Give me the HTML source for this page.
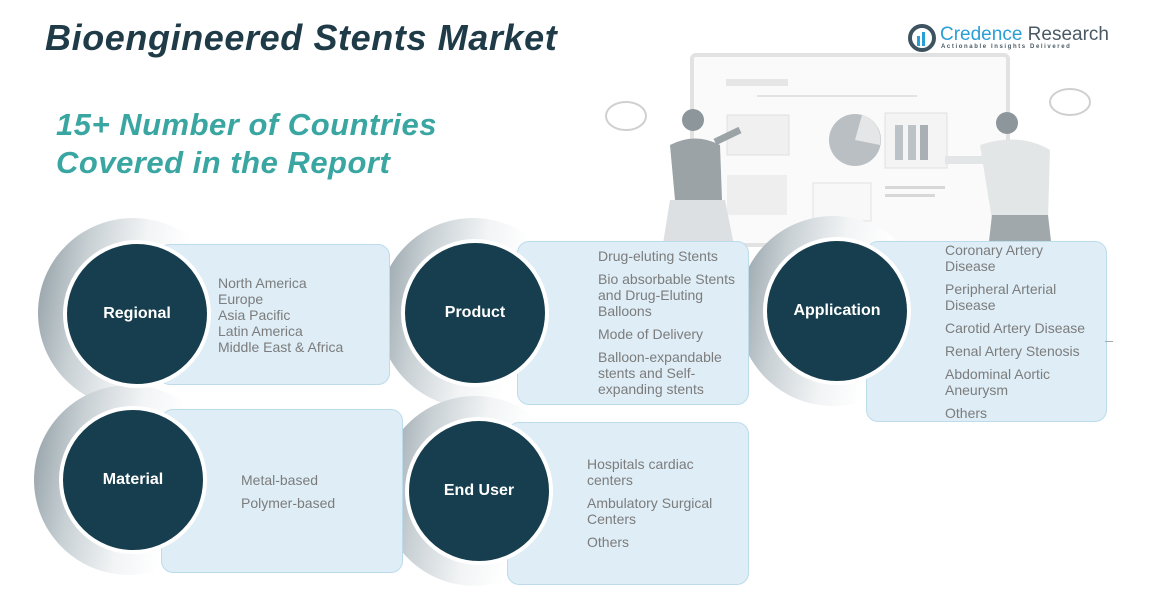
<!DOCTYPE html>
<html><head><meta charset="utf-8"><style>
body{margin:0;width:1172px;height:607px;background:#fff;position:relative;overflow:hidden;font-family:"Liberation Sans",sans-serif}
.a{position:absolute}
.ring{position:absolute;border-radius:50%;background:linear-gradient(100deg,#8d9ba2 0%,#c9d1d5 25%,#f2f4f5 50%,#fff 70%)}
.box{position:absolute;background:#deedf6;border:1.5px solid #bcdcec;border-radius:12px}
.dot{position:absolute;border-radius:50%;background:#173e4e;border:4px solid #fff;color:#fff;font-weight:bold;font-size:16px;display:flex;align-items:center;justify-content:center}
.t{position:absolute;color:#7c7c7c;font-size:14px;line-height:16px}
.t div{margin-bottom:7px}
</style></head><body>
<div class="a" style="left:45px;top:17px;font-size:36px;font-weight:bold;font-style:italic;color:#1f3b48;letter-spacing:0.6px">Bioengineered Stents Market</div>
<div class="a" style="left:56px;top:106px;font-size:31px;font-weight:bold;font-style:italic;color:#3aa6a2;line-height:38px;letter-spacing:0.5px">15+ Number of Countries<br>Covered in the Report</div>
<!-- logo -->
<svg class="a" style="left:908px;top:24px" width="30" height="28"><circle cx="14" cy="14" r="12" fill="none" stroke="#3d5360" stroke-width="4"/><rect x="9" y="12" width="3" height="10" fill="#2a9fd6"/><rect x="14" y="8" width="3" height="14" fill="#2a9fd6"/></svg>
<div class="a" style="left:940px;top:24px;font-size:19px;color:#2a9fd6">Credence <span style="color:#4a5a64">Research</span></div>
<div class="a" style="left:941px;top:44px;font-size:6px;letter-spacing:1.6px;color:#4a5a64;font-weight:bold">Actionable Insights Delivered</div>
<!-- illustration -->
<svg class="a" style="left:600px;top:50px" width="520" height="200">
<rect x="92" y="5" width="316" height="190" rx="4" fill="#fafafa" stroke="#e2e2e2" stroke-width="4"/>
<rect x="126" y="29" width="62" height="7" fill="#e6e6e6"/><rect x="157" y="45" width="160" height="2" fill="#e2e2e2"/>
<rect x="127" y="65" width="62" height="40" fill="#f0f0f0" stroke="#e0e0e0"/>
<circle cx="255" cy="90" r="26" fill="#b9bfc2"/><path d="M255 90 L262 65 A26 26 0 0 1 280 95Z" fill="#e4e6e7"/>
<rect x="285" y="63" width="62" height="55" fill="#f4f4f4" stroke="#e0e0e0"/><rect x="295" y="75" width="8" height="35" fill="#bcc2c5"/><rect x="308" y="75" width="8" height="35" fill="#bcc2c5"/><rect x="320" y="75" width="8" height="35" fill="#a8b0b4"/>
<rect x="127" y="125" width="60" height="40" fill="#eeeeee"/><rect x="213" y="133" width="58" height="38" fill="#f8f8f8" stroke="#e2e2e2"/>
<rect x="285" y="136" width="60" height="3" fill="#d8d8d8"/><rect x="285" y="144" width="50" height="3" fill="#d8d8d8"/>
<ellipse cx="26" cy="66" rx="20" ry="14" fill="none" stroke="#d0d0d0" stroke-width="2"/><ellipse cx="470" cy="52" rx="20" ry="13" fill="none" stroke="#d0d0d0" stroke-width="2"/>
<circle cx="93" cy="70" r="11" fill="#8c969b"/><path d="M70 95 Q95 82 120 95 L122 150 L75 150Z" fill="#9ba3a7"/><path d="M70 150 L125 150 L135 200 L62 200Z" fill="#dde0e2"/><path d="M115 92 L140 80" stroke="#9ba3a7" stroke-width="7"/>
<circle cx="407" cy="73" r="11" fill="#8c969b"/><path d="M380 95 Q420 82 450 100 L448 170 L392 170Z" fill="#e3e6e7"/><path d="M392 165 L448 165 L452 200 L388 200Z" fill="#a0a8ac"/><path d="M385 110 L345 110" stroke="#e3e6e7" stroke-width="8"/>
</svg>
<!-- rings -->
<div class="ring" style="left:38px;top:218px;width:190px;height:190px"></div>
<div class="ring" style="left:378px;top:218px;width:190px;height:190px"></div>
<div class="ring" style="left:738px;top:216px;width:190px;height:190px"></div>
<div class="ring" style="left:34px;top:385px;width:190px;height:190px"></div>
<div class="ring" style="left:380px;top:396px;width:190px;height:190px"></div>
<!-- boxes -->
<div class="box" style="left:158px;top:244px;width:230px;height:139px"></div>
<div class="box" style="left:517px;top:241px;width:230px;height:162px"></div>
<div class="box" style="left:866px;top:241px;width:239px;height:179px"></div>
<div class="box" style="left:161px;top:409px;width:240px;height:162px"></div>
<div class="box" style="left:507px;top:422px;width:240px;height:161px"></div>
<div class="a" style="left:1105px;top:341px;width:8px;height:1px;background:#aaa"></div>
<!-- circles -->
<div class="dot" style="left:63px;top:240px;width:140px;height:140px">Regional</div>
<div class="dot" style="left:401px;top:239px;width:140px;height:140px">Product</div>
<div class="dot" style="left:763px;top:237px;width:140px;height:140px">Application</div>
<div class="dot" style="left:59px;top:406px;width:140px;height:140px">Material</div>
<div class="dot" style="left:405px;top:417px;width:140px;height:140px">End User</div>
<!-- texts -->
<div class="t" style="left:218px;top:275px">North America<br>Europe<br>Asia Pacific<br>Latin America<br>Middle East &amp; Africa</div>
<div class="t" style="left:598px;top:248px"><div>Drug-eluting Stents</div><div>Bio absorbable Stents<br>and Drug-Eluting<br>Balloons</div><div>Mode of Delivery</div><div>Balloon-expandable<br>stents and Self-<br>expanding stents</div></div>
<div class="t" style="left:945px;top:242px"><div>Coronary Artery<br>Disease</div><div>Peripheral Arterial<br>Disease</div><div>Carotid Artery Disease</div><div>Renal Artery Stenosis</div><div>Abdominal Aortic<br>Aneurysm</div><div>Others</div></div>
<div class="t" style="left:241px;top:472px"><div>Metal-based</div><div>Polymer-based</div></div>
<div class="t" style="left:587px;top:456px"><div>Hospitals cardiac<br>centers</div><div>Ambulatory Surgical<br>Centers</div><div>Others</div></div>
</body></html>
